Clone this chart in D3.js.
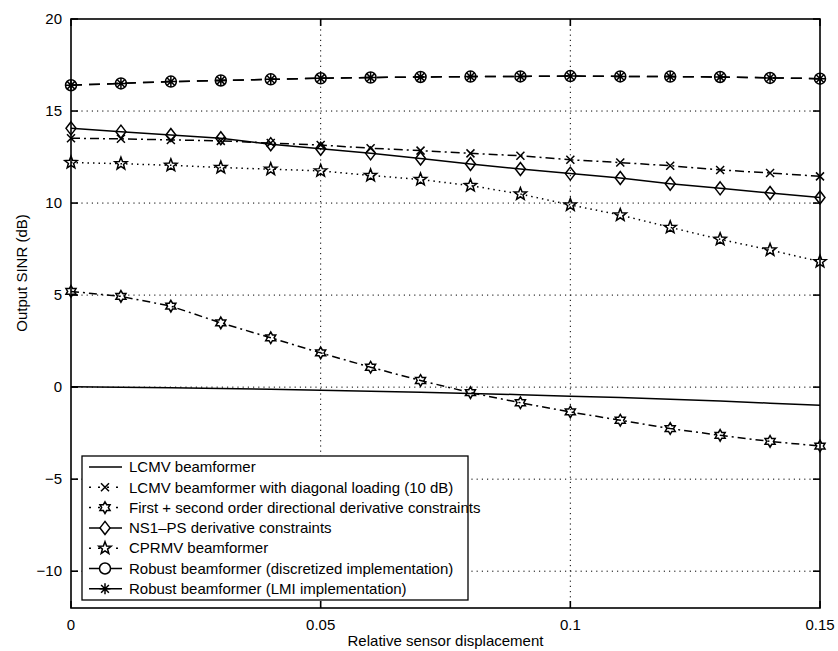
<!DOCTYPE html>
<html>
<head>
<meta charset="utf-8">
<script src="https://cdn.jsdelivr.net/npm/d3@7"></script>
<style>
  body { margin: 0; background: #fff; }
  text { font-family: "Liberation Sans", Arial, Helvetica, sans-serif; fill: #000; }
</style>
</head>
<body>
<svg id="chart" width="838" height="651"></svg>
<script>
// Relative sensor displacement (x axis samples)
const displacement = [0, 0.01, 0.02, 0.03, 0.04, 0.05, 0.06, 0.07, 0.08, 0.09, 0.10, 0.11, 0.12, 0.13, 0.14, 0.15];

// Output SINR (dB) per beamformer
const lcmv       = [0.02, -0.01, -0.04, -0.08, -0.12, -0.17, -0.22, -0.28, -0.34, -0.41, -0.49, -0.57, -0.66, -0.76, -0.87, -0.98];
const lcmvDiag   = [13.52, 13.49, 13.43, 13.38, 13.26, 13.15, 12.98, 12.85, 12.70, 12.57, 12.35, 12.20, 12.03, 11.80, 11.63, 11.45];
const derivFS    = [5.20, 4.93, 4.40, 3.49, 2.68, 1.86, 1.08, 0.36, -0.30, -0.85, -1.35, -1.80, -2.25, -2.62, -2.95, -3.20];
const ns1ps      = [14.06, 13.88, 13.70, 13.52, 13.20, 12.95, 12.70, 12.42, 12.12, 11.85, 11.60, 11.36, 11.05, 10.80, 10.55, 10.30];
const cprmv      = [12.20, 12.14, 12.05, 11.93, 11.84, 11.75, 11.50, 11.28, 10.95, 10.49, 9.90, 9.35, 8.68, 8.03, 7.45, 6.82];
const robustDisc = [16.40, 16.50, 16.60, 16.66, 16.72, 16.78, 16.82, 16.85, 16.87, 16.88, 16.90, 16.88, 16.87, 16.85, 16.80, 16.76];
const robustLmi  = [16.40, 16.50, 16.60, 16.66, 16.72, 16.78, 16.82, 16.85, 16.87, 16.88, 16.90, 16.88, 16.87, 16.85, 16.80, 16.76];

const xTicks = [0, 0.05, 0.1, 0.15];
const xTickLabels = ["0", "0.05", "0.1", "0.15"];
const yTicks = [-10, -5, 0, 5, 10, 15, 20];
const yTickLabels = ["\u221210", "\u22125", "0", "5", "10", "15", "20"];

const seriesNames = [
  "LCMV beamformer",
  "LCMV beamformer with diagonal loading (10 dB)",
  "First + second order directional derivative constraints",
  "NS1\u2013PS derivative constraints",
  "CPRMV beamformer",
  "Robust beamformer (discretized implementation)",
  "Robust beamformer (LMI implementation)"
];

// dash: pattern in the plot; keyDash: pattern of the short legend sample
const series = [
  { name: seriesNames[0], values: lcmv,       dash: null,      keyDash: null,    marker: null },
  { name: seriesNames[1], values: lcmvDiag,   dash: "9,4,2,4", keyDash: "2,7",   marker: "x" },
  { name: seriesNames[2], values: derivFS,    dash: "8,4,2,4", keyDash: "2,7",   marker: "hexagram" },
  { name: seriesNames[3], values: ns1ps,      dash: null,      keyDash: null,    marker: "diamond" },
  { name: seriesNames[4], values: cprmv,      dash: "1.5,4",   keyDash: "2,7",   marker: "pentagram" },
  { name: seriesNames[5], values: robustDisc, dash: "11,7",    keyDash: null,    marker: "circle" },
  { name: seriesNames[6], values: robustLmi,  dash: "11,7",    keyDash: null,    marker: "asterisk" }
];

const margin = { left: 71, top: 19, right: 18, bottom: 43 };
const W = 838, H = 651;
const pw = W - margin.left - margin.right;
const ph = H - margin.top - margin.bottom;

const svg = d3.select("#chart");
const g = svg.append("g").attr("transform", `translate(${margin.left},${margin.top})`);

const x = d3.scaleLinear().domain([0, 0.15]).range([0, pw]);
const y = d3.scaleLinear().domain([-12, 20]).range([ph, 0]);

// dotted grid
const grid = g.append("g").attr("stroke", "#000").attr("stroke-width", 1).attr("stroke-dasharray", "1.2,4");
xTicks.slice(1, -1).forEach(t => {
  grid.append("line").attr("x1", x(t)).attr("x2", x(t)).attr("y1", 0).attr("y2", ph);
});
yTicks.slice(0, -1).forEach(t => {
  grid.append("line").attr("x1", 0).attr("x2", pw).attr("y1", y(t)).attr("y2", y(t));
});

// marker shapes
function markerPath(type) {
  const p = d3.path();
  if (type === "x") {
    const r = 4;
    p.moveTo(-r, -r); p.lineTo(r, r); p.moveTo(-r, r); p.lineTo(r, -r);
  } else if (type === "asterisk") {
    const r = 5.5;
    for (let k = 0; k < 4; k++) {
      const a = k * Math.PI / 4;
      p.moveTo(-r * Math.cos(a), -r * Math.sin(a)); p.lineTo(r * Math.cos(a), r * Math.sin(a));
    }
  } else if (type === "diamond") {
    const w = 5, h = 6.5;
    p.moveTo(0, -h); p.lineTo(w, 0); p.lineTo(0, h); p.lineTo(-w, 0); p.closePath();
  } else if (type === "circle") {
    p.arc(0, 0, 5.5, 0, 2 * Math.PI);
  } else if (type === "pentagram" || type === "hexagram") {
    const n = type === "pentagram" ? 5 : 6;
    const R = type === "pentagram" ? 6.5 : 5.8;
    const r = type === "pentagram" ? R * 0.42 : R / Math.sqrt(3);
    for (let k = 0; k < 2 * n; k++) {
      const a = -Math.PI / 2 + k * Math.PI / n;
      const rr = k % 2 === 0 ? R : r;
      if (k === 0) p.moveTo(rr * Math.cos(a), rr * Math.sin(a));
      else p.lineTo(rr * Math.cos(a), rr * Math.sin(a));
    }
    p.closePath();
  }
  return p.toString();
}

const line = d3.line().x((d, i) => x(displacement[i])).y(d => y(d));
const sw = 1.5;

const plot = g.append("g");
series.forEach(s => {
  plot.append("path")
    .datum(s.values)
    .attr("d", line)
    .attr("fill", "none")
    .attr("stroke", "#000")
    .attr("stroke-width", sw)
    .attr("stroke-dasharray", s.dash);
  if (s.marker) {
    plot.append("g").selectAll("path")
      .data(s.values)
      .join("path")
      .attr("transform", (d, i) => `translate(${x(displacement[i])},${y(d)})`)
      .attr("d", markerPath(s.marker))
      .attr("fill", "none")
      .attr("stroke", "#000")
      .attr("stroke-width", sw);
  }
});

// axes box with inward ticks on all four sides
const axes = g.append("g").attr("stroke", "#000").attr("stroke-width", 1.6);
axes.append("rect").attr("x", 0).attr("y", 0).attr("width", pw).attr("height", ph).attr("fill", "none");
const tl = 7;
xTicks.forEach(t => {
  axes.append("line").attr("x1", x(t)).attr("x2", x(t)).attr("y1", ph).attr("y2", ph - tl);
  axes.append("line").attr("x1", x(t)).attr("x2", x(t)).attr("y1", 0).attr("y2", tl);
});
yTicks.forEach(t => {
  axes.append("line").attr("x1", 0).attr("x2", tl).attr("y1", y(t)).attr("y2", y(t));
  axes.append("line").attr("x1", pw).attr("x2", pw - tl).attr("y1", y(t)).attr("y2", y(t));
});

// tick labels
const fs = 15;
xTicks.forEach((t, i) => {
  g.append("text").attr("x", x(t)).attr("y", ph + 22).attr("text-anchor", "middle")
    .attr("font-size", fs).text(xTickLabels[i]);
});
yTicks.forEach((t, i) => {
  g.append("text").attr("x", -9).attr("y", y(t)).attr("dy", "0.35em").attr("text-anchor", "end")
    .attr("font-size", fs).text(yTickLabels[i]);
});

// axis titles
g.append("text").attr("x", pw / 2).attr("y", ph + 38).attr("text-anchor", "middle")
  .attr("font-size", fs).text("Relative sensor displacement");
g.append("text").attr("transform", `translate(${-44},${273 - margin.top}) rotate(-90)`)
  .attr("text-anchor", "middle").attr("font-size", fs).text("Output SINR (dB)");

// legend
const lg = g.append("g").attr("transform", `translate(${82 - margin.left},${456 - margin.top})`);
const lgW = 386, lgH = 144;
lg.append("rect").attr("width", lgW).attr("height", lgH).attr("fill", "#fff")
  .attr("stroke", "#000").attr("stroke-width", 1.3);
const rowH = 20.3;
series.forEach((s, i) => {
  const ry = 11 + i * rowH;
  const row = lg.append("g").attr("transform", `translate(0,${ry})`);
  row.append("line").attr("x1", 7).attr("x2", 40).attr("y1", 0).attr("y2", 0)
    .attr("stroke", "#000").attr("stroke-width", sw)
    .attr("stroke-dasharray", s.keyDash);
  if (s.marker) {
    row.append("path").attr("transform", "translate(23,0)").attr("d", markerPath(s.marker))
      .attr("fill", "#fff").attr("stroke", "#000").attr("stroke-width", sw);
  }
  row.append("text").attr("x", 47).attr("y", 0).attr("dy", "0.35em")
    .attr("font-size", fs).text(s.name);
});
</script>
</body>
</html>
